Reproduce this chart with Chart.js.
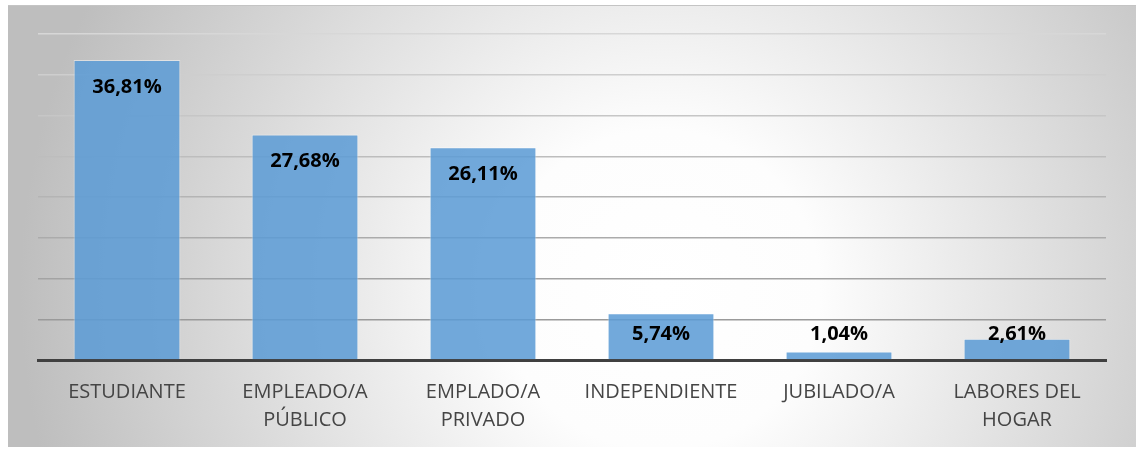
<!DOCTYPE html>
<html>
<head>
<meta charset="utf-8">
<script src="https://cdn.jsdelivr.net/npm/chart.js@4.4.1/dist/chart.umd.min.js"></script>
<style>
  html, body { margin: 0; padding: 0; background: #fff; }
  #wrap { width: 1136px; height: 449px; }
</style>
</head>
<body>
<div id="wrap"><canvas id="ocupacion"></canvas></div>
<script>
// categories and values (%)
const categories = [
    "ESTUDIANTE",
    ["EMPLEADO/A", "PÚBLICO"],
    ["EMPLADO/A", "PRIVADO"],
    "INDEPENDIENTE",
    "JUBILADO/A",
    ["LABORES DEL", "HOGAR"],
];
const porcentajes = [36.81, 27.68, 26.11, 5.74, 1.04, 2.61];
const etiquetas = ["36,81%", "27,68%", "26,11%", "5,74%", "1,04%", "2,61%"];

// panel background with soft radial gradient
const panelBg = {
    id: "panelBg",
    beforeDraw(chart) {
        const ctx = chart.ctx;
        ctx.save();
        ctx.fillStyle = "#fff";
        ctx.fillRect(0, 0, chart.width, chart.height);
        const g = ctx.createRadialGradient(660, 290, 0, 660, 290, 640);
        g.addColorStop(0, "#ffffff");
        g.addColorStop(0.25, "#fdfdfd");
        g.addColorStop(1, "#bebebe");
        ctx.fillStyle = g;
        ctx.fillRect(8, 5, 1128, 442);
        ctx.strokeStyle = "#c4c4c4";
        ctx.lineWidth = 1;
        ctx.beginPath();
        ctx.moveTo(8, 5.5);
        ctx.lineTo(1136, 5.5);
        ctx.stroke();
        ctx.restore();
    },
};

// value labels: inside top of bar, but never lower than a fixed line near base
const barLabels = {
    id: "barLabels",
    afterDatasetsDraw(chart) {
        const ctx = chart.ctx;
        const meta = chart.getDatasetMeta(0);
        const base = chart.scales.y.getPixelForValue(0);
        ctx.save();
        ctx.font = "bold 20px 'Open Sans'";
        ctx.fillStyle = "#000";
        ctx.textAlign = "center";
        ctx.textBaseline = "middle";
        meta.data.forEach((bar, i) => {
            const y = Math.min(bar.y + 27, base - 26);
            ctx.fillText(etiquetas[i], bar.x, y);
        });
        ctx.restore();
    },
};

new Chart(document.getElementById("ocupacion"), {
    type: "bar",
    data: {
        labels: categories,
        datasets: [{
            data: porcentajes,
            backgroundColor: "rgba(91,155,213,0.86)",
            borderColor: "rgba(255,255,255,0.45)",
            borderWidth: 1,
            categoryPercentage: 1,
            barPercentage: 0.6,
        }],
    },
    options: {
        responsive: true,
        maintainAspectRatio: false,
        animation: false,
        layout: { padding: { left: 38, right: 30, top: 34, bottom: 0 } },
        plugins: {
            legend: { display: false },
            tooltip: { enabled: false },
        },
        scales: {
            x: {
                z: 1,
                grid: { display: false, drawTicks: false },
                border: { display: true, color: "#404040", width: 3 },
                ticks: {
                    color: "#454545",
                    padding: 18,
                    maxRotation: 0,
                    autoSkip: false,
                    font: { family: "'Open Sans'", size: 20, lineHeight: 1.4 },
                },
                afterFit: (s) => { s.height = 89; },
            },
            y: {
                min: 0,
                max: 40,
                ticks: { display: false, stepSize: 5 },
                border: { display: false },
                grid: {
                    drawTicks: false,
                    lineWidth: 1.5,
                    color: (c) => {
                        if (c.index === 0) return "rgba(0,0,0,0)";
                        const t = c.index / 8;
                        const v = Math.round(145 + t * 70);
                        return `rgb(${v},${v},${v})`;
                    },
                },
                afterFit: (s) => { s.width = 0; },
            },
        },
    },
    plugins: [panelBg, barLabels],
});
</script>
</body>
</html>
